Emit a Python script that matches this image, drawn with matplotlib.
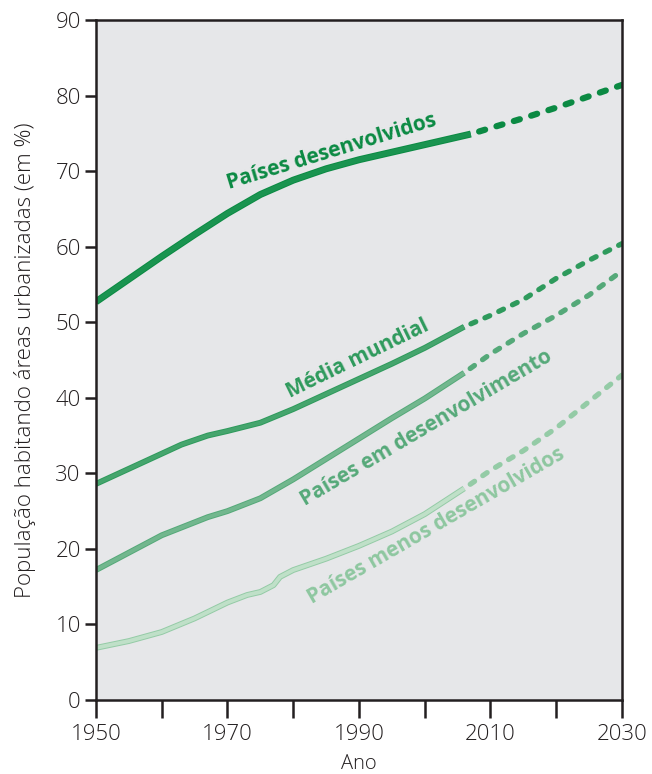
import numpy as np
from matplotlib import pyplot as plt
import matplotlib.patheffects as pe

plt.rcParams['font.family'] = ['Open Sans', 'DejaVu Sans']

# dados (% da populacao urbana)
anos_desenv = [1950, 1955, 1960, 1965, 1970, 1975, 1980, 1985, 1990, 1995, 2000, 2007]
val_desenv = [52.7, 55.7, 58.7, 61.6, 64.4, 66.9, 68.8, 70.3, 71.5, 72.5, 73.5, 74.9]
proj_anos_desenv = [2007, 2010, 2015, 2020, 2025, 2030]
proj_desenv = [74.9, 75.7, 77.0, 78.4, 79.9, 81.4]

anos_mundo = [1950, 1955, 1960, 1963, 1967, 1970, 1975, 1980, 1985, 1990, 1995, 2000, 2006]
val_mundo = [28.6, 30.6, 32.6, 33.8, 35.0, 35.6, 36.7, 38.5, 40.5, 42.5, 44.5, 46.6, 49.4]
proj_anos_mundo = [2006, 2010, 2015, 2020, 2025, 2030]
proj_mundo = [49.4, 50.9, 53.0, 55.8, 58.2, 60.4]

anos_emdes = [1950, 1955, 1960, 1967, 1970, 1975, 1978, 1980, 1985, 1990, 1995, 2000, 2006]
val_emdes = [17.2, 19.5, 21.8, 24.2, 25.0, 26.7, 28.2, 29.2, 31.9, 34.6, 37.3, 39.9, 43.3]
proj_anos_emdes = [2006, 2010, 2015, 2020, 2025, 2030]
proj_emdes = [43.3, 45.8, 48.5, 50.9, 53.6, 56.8]

anos_menos = [1950, 1955, 1960, 1965, 1970, 1973, 1975, 1977, 1978, 1980, 1985, 1990, 1995, 2000, 2006]
val_menos = [6.9, 7.8, 9.0, 10.8, 12.9, 13.9, 14.3, 15.2, 16.3, 17.2, 18.7, 20.4, 22.3, 24.6, 28.0]
proj_anos_menos = [2006, 2010, 2015, 2020, 2025, 2030]
proj_menos = [28.0, 30.4, 33.0, 36.0, 39.5, 43.0]

fig = plt.figure(figsize=(6.52, 7.74), dpi=100)
ax = fig.add_axes([0.1472, 0.0956, 0.8068, 0.8786])
ax.set_facecolor('#e6e7e9')

series = [
    (anos_desenv, val_desenv, proj_anos_desenv, proj_desenv, '#0b8a43', '#1a9450', 5.0),
    (anos_mundo, val_mundo, proj_anos_mundo, proj_mundo, '#2e9a5c', '#45a56d', 4.2),
    (anos_emdes, val_emdes, proj_anos_emdes, proj_emdes, '#55a979', '#72b78e', 4.2),
    (anos_menos, val_menos, proj_anos_menos, proj_menos, '#94cba6', '#bfe0c8', 4.2),
]
for x, y, px, py, dark, light, lw in series:
    ax.plot(x, y, color=light, lw=lw - 1.4, solid_capstyle='butt',
            path_effects=[pe.Stroke(linewidth=lw, foreground=dark), pe.Normal()])
    ax.plot(px, py, color=dark, lw=lw * 0.9, linestyle=(1.5, (1.0, 1.9)),
            dash_capstyle='round')

rotulos = [
    ('Países desenvolvidos', 1985.9, 72.6, 17, '#0b8a43'),
    ('Média mundial', 1989.8, 45.2, 26, '#2e9a5c'),
    ('Países em desenvolvimento', 2000.2, 36.0, 30.5, '#55a979'),
    ('Países menos desenvolvidos', 2001.7, 23.0, 30, '#8ec7a0'),
]
for txt, xx, yy, rot, cor in rotulos:
    ax.text(xx, yy, txt, rotation=rot, color=cor, fontsize=15, fontweight='bold',
            ha='center', va='center', rotation_mode='anchor')

ax.set_xlim(1950, 2030)
ax.set_ylim(0, 90)
ax.set_xticks(np.arange(1950, 2031, 10))
ax.set_xticklabels([str(a) if (a - 1950) % 20 == 0 else '' for a in range(1950, 2031, 10)])
ax.set_yticks(np.arange(0, 91, 10))
for s in ax.spines.values():
    s.set_color('#231f20')
    s.set_linewidth(1.8)
ax.tick_params(axis='both', direction='out', color='#231f20', width=1.8,
               labelsize=16, labelcolor='#231f20')
ax.tick_params(axis='x', length=13, pad=4)
ax.tick_params(axis='y', length=8, pad=3)
for lab in ax.get_xticklabels() + ax.get_yticklabels():
    lab.set_fontweight('light')
ax.set_xlabel('Ano', fontsize=14.5, color='#231f20', labelpad=7, fontweight='light')
ax.set_ylabel('População habitando áreas urbanizadas (em %)', fontsize=16,
              color='#231f20', labelpad=14, fontweight='light')

fig.savefig('out.png', dpi=100)
